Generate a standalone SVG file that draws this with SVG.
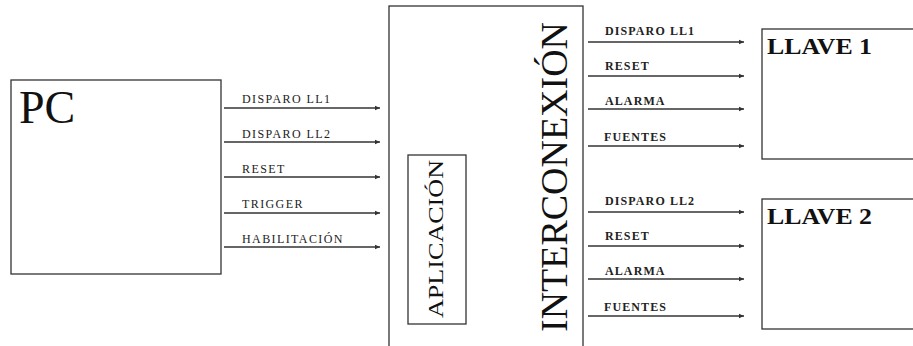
<svg xmlns="http://www.w3.org/2000/svg" width="913" height="346" viewBox="0 0 913 346">
<style>
.box{fill:#fff;stroke:#333;stroke-width:1.3}
.ln{stroke:#333;stroke-width:1.5;fill:none;marker-end:url(#ah)}
.lbl{font-family:"Liberation Serif",serif;font-size:12px;fill:#222;letter-spacing:1.4px}
.lbl2{font-family:"Liberation Serif",serif;font-size:12px;fill:#222;font-weight:bold;letter-spacing:1.1px}
.big{font-family:"Liberation Serif",serif;fill:#111}
</style>
<defs>
<marker id="ah" markerWidth="6" markerHeight="6" refX="5" refY="3" orient="auto" markerUnits="userSpaceOnUse">
<path d="M0,0.8 L5,3 L0,5.2 Z" fill="#333"/>
</marker>
</defs>
<rect width="913" height="346" fill="#fff"/>
<g id="pc">
<rect class="box" x="11" y="80" width="210" height="194"/>
<text class="big" x="19" y="123" font-size="46">PC</text>
</g>
<g id="interconexion">
<rect class="box" x="389" y="6" width="194" height="350"/>
<text class="big" transform="translate(567,177) rotate(-90)" text-anchor="middle" font-size="37" textLength="310" lengthAdjust="spacingAndGlyphs">INTERCONEXIÓN</text>
</g>
<g id="aplicacion">
<rect class="box" x="408" y="155" width="58" height="169"/>
<text class="big" transform="translate(443,239) rotate(-90)" text-anchor="middle" font-size="22" textLength="158" lengthAdjust="spacingAndGlyphs">APLICACIÓN</text>
</g>
<g id="llave1">
<rect class="box" x="762" y="29" width="160" height="130"/>
<text class="big" x="767" y="54" font-size="24" font-weight="bold" textLength="105" lengthAdjust="spacingAndGlyphs">LLAVE 1</text>
</g>
<g id="llave2">
<rect class="box" x="762" y="199" width="160" height="130"/>
<text class="big" x="767" y="224" font-size="24" font-weight="bold" textLength="105" lengthAdjust="spacingAndGlyphs">LLAVE 2</text>
</g>
<g id="connectors">
<line class="ln" x1="224" y1="108" x2="380" y2="108"/>
<line class="ln" x1="224" y1="142" x2="380" y2="142"/>
<line class="ln" x1="224" y1="177" x2="380" y2="177"/>
<line class="ln" x1="224" y1="213" x2="380" y2="213"/>
<line class="ln" x1="224" y1="247" x2="380" y2="247"/>
<line class="ln" x1="588" y1="42" x2="744" y2="42"/>
<line class="ln" x1="588" y1="76" x2="744" y2="76"/>
<line class="ln" x1="588" y1="109" x2="744" y2="109"/>
<line class="ln" x1="588" y1="146" x2="744" y2="146"/>
<line class="ln" x1="588" y1="212" x2="744" y2="212"/>
<line class="ln" x1="588" y1="246" x2="744" y2="246"/>
<line class="ln" x1="588" y1="279" x2="744" y2="279"/>
<line class="ln" x1="588" y1="316" x2="744" y2="316"/>
</g>
<g id="labels">
<text class="lbl" x="242" y="103">DISPARO LL1</text>
<text class="lbl" x="242" y="138">DISPARO LL2</text>
<text class="lbl" x="242" y="173">RESET</text>
<text class="lbl" x="242" y="208">TRIGGER</text>
<text class="lbl" x="242" y="243">HABILITACIÓN</text>
<text class="lbl2" x="605" y="35">DISPARO LL1</text>
<text class="lbl2" x="605" y="70">RESET</text>
<text class="lbl2" x="605" y="105">ALARMA</text>
<text class="lbl2" x="604" y="141">FUENTES</text>
<text class="lbl2" x="605" y="205">DISPARO LL2</text>
<text class="lbl2" x="605" y="240">RESET</text>
<text class="lbl2" x="605" y="275">ALARMA</text>
<text class="lbl2" x="604" y="311">FUENTES</text>
</g>
</svg>
